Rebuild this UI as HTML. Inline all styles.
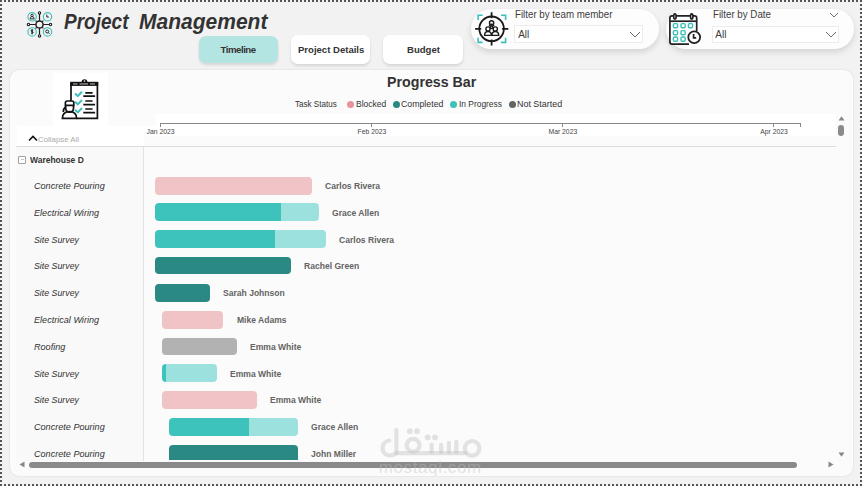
<!DOCTYPE html>
<html><head><meta charset="utf-8">
<style>
*{box-sizing:border-box;margin:0;padding:0}
html,body{width:862px;height:486px;overflow:hidden}
body{position:relative;background:#f3f2f2;font-family:"Liberation Sans",sans-serif;color:#333}
.a{position:absolute}
.t{line-height:1;white-space:nowrap;transform-origin:0 0}
.bt{background:repeating-linear-gradient(90deg,#555 0 2px,transparent 2px 4px)}
.bv{background:repeating-linear-gradient(180deg,#555 0 2px,transparent 2px 4px)}
.tab{border-radius:7px;background:#fff;box-shadow:0 2px 3px rgba(0,0,0,.12)}
.filt{background:#fdfdfd;border-radius:21px;box-shadow:0 3px 6px rgba(0,0,0,.13)}
.dd{background:#fff;border:1px solid #ececec}
.card{left:10px;top:70px;width:842.5px;height:405.8px;background:#fbfbfb;border-radius:9px;box-shadow:0 0 2px rgba(0,0,0,.14)}
.bar{border-radius:4px;height:17.8px}
.dot{width:7px;height:7px;border-radius:50%}
</style></head><body>
<div class="a bt" style="left:0;top:0;width:862px;height:2px"></div>
<div class="a bt" style="left:0;top:484px;width:862px;height:2px"></div>
<div class="a bv" style="left:0;top:0;width:2px;height:486px"></div>
<div class="a bv" style="left:860px;top:0;width:2px;height:486px"></div>

<svg class="a" style="left:25px;top:10px" width="30" height="30" viewBox="0 0 30 30">
 <g fill="none" stroke="#3ec1bb" stroke-width="1.15">
  <circle cx="7.1" cy="6.8" r="4.2"/><circle cx="22.5" cy="6.8" r="4.2"/>
  <circle cx="7.1" cy="21.9" r="4.2"/><circle cx="22.5" cy="21.9" r="4.2"/>
 </g>
 <g fill="none" stroke="#1e1e1e" stroke-width="1.2">
  <path d="M14.5 10.8V4M14.5 18.2V24.8M10.8 14.5H4.6M18.2 14.5H24.4"/>
  <path d="M11.7 11.7L10.6 10.6M17.3 11.7L18.4 10.6M11.7 17.3L10.6 18.4M17.3 17.3L18.4 18.4"/>
  <circle cx="14.5" cy="14.5" r="3.6" fill="#f3f2f2" stroke-width="1.5"/>
  <circle cx="14.5" cy="2.9" r="1.2" fill="#f3f2f2" stroke-width="1.1"/><circle cx="14.5" cy="25.9" r="1.2" fill="#f3f2f2" stroke-width="1.1"/>
  <circle cx="3.5" cy="14.5" r="1.2" fill="#f3f2f2" stroke-width="1.1"/><circle cx="25.5" cy="14.5" r="1.2" fill="#f3f2f2" stroke-width="1.1"/>
 </g>
 <g fill="none" stroke="#1e1e1e" stroke-width="0.95">
  <circle cx="7.1" cy="5.5" r="1.2"/><path d="M5.1 8.9c0-1.6 .9-2.3 2-2.3s2 .7 2 2.3z"/>
  <path d="M21.8 4.6v2.4h2"/>
  <path d="M8.2 20.3c-.3-.5-2.2-.5-2.2.5 0 1 2.2.5 2.2 1.6 0 1-1.9 1-2.2.4M7.1 19.2v5.2" stroke-width="1"/>
  <circle cx="22.2" cy="21.5" r="1.5"/><path d="M23.3 22.6l1.2 1.2"/>
 </g>
</svg>
<div class="a" style="left:64px;top:9px;font-size:22px;font-weight:bold;font-style:italic;color:#333;white-space:nowrap;transform:scaleX(0.865);transform-origin:0 0">Project</div>
<div class="a" style="left:139.3px;top:9px;font-size:22px;font-weight:bold;font-style:italic;color:#333;white-space:nowrap;transform:scaleX(0.955);transform-origin:0 0">Management</div>
<div class="a tab" style="left:199px;top:36px;width:79px;height:27px;background:#b3e5e2"></div>
<div class="a tab" style="left:291px;top:35px;width:79px;height:29px"></div>
<div class="a tab" style="left:383px;top:35px;width:80px;height:29px"></div>
<div class="a t" style="left:220.50px;top:45.00px;font-size:9.7px;color:#333;font-weight:bold;font-style:normal;letter-spacing:-0.5px">Timeline</div>
<div class="a t" style="left:297.80px;top:45.00px;font-size:9.7px;color:#333;font-weight:bold;font-style:normal;transform:scaleX(0.9851632047477745);">Project Details</div>
<div class="a t" style="left:406.90px;top:45.00px;font-size:9.7px;color:#333;font-weight:bold;font-style:normal;transform:scaleX(0.9880239520958084);">Budget</div>
<div class="a filt" style="left:471px;top:9px;width:188px;height:40px"></div>
<svg class="a" style="left:472px;top:10px" width="40" height="38" viewBox="472 10 40 38">
 <g fill="none" stroke="#3bbfb8" stroke-width="1.6">
  <path d="M478.1 20V15.3H482.6M501 15.3H505.6V20M478.1 37.8V42.4H482.6M501 42.4H505.6V37.8"/>
 </g>
 <g fill="none" stroke="#1a1a1a" stroke-width="1.8">
  <circle cx="491.6" cy="28.8" r="12.3"/>
  <path d="M491.6 12.3V18.2M491.6 39.4V45.5M475.1 28.8H481.2M502 28.8H508.3"/>
 </g>
 <g fill="none" stroke="#1a1a1a" stroke-width="1.4">
  <circle cx="491.6" cy="22.9" r="2.1"/>
  <circle cx="488" cy="29" r="2.1"/><circle cx="495.3" cy="29" r="2.1"/>
  <circle cx="491.6" cy="27.3" r="1.2"/>
  <path d="M484.6 35.4c0-2.6 1.4-3.9 3.4-3.9s3.4 1.3 3.4 3.9zM491.9 35.4c0-2.6 1.4-3.9 3.4-3.9s3.4 1.3 3.4 3.9z"/>
  <path d="M489.2 26.3c.5-1.3 1.4-2 2.4-2s1.9.7 2.4 2"/>
 </g>
</svg>
<div class="a t" style="left:515.40px;top:10.00px;font-size:10px;color:#3c3c3c;font-weight:normal;font-style:normal;transform:scaleX(0.974);">Filter by team member</div>
<div class="a dd" style="left:514px;top:25px;width:129px;height:17.5px"></div>
<div class="a t" style="left:518.20px;top:30.00px;font-size:10px;color:#3c3c3c;font-weight:normal;font-style:normal;">All</div>
<svg class="a" style="left:629px;top:31px" width="12" height="7" viewBox="0 0 12 7"><path d="M1 1l5 5 5-5" fill="none" stroke="#6a6a6a" stroke-width="1"/></svg>
<div class="a filt" style="left:666px;top:9px;width:188px;height:40px"></div>
<svg class="a" style="left:665px;top:8px" width="40" height="40" viewBox="665 8 40 40">
 <g fill="none" stroke="#222" stroke-width="1.7">
  <path d="M689 44.2H672.1q-2.2 0-2.2-2.2V18q0-2.2 2.2-2.2H694.5q2.2 0 2.2 2.2V31"/>
  <path d="M669.9 21.2H696.7"/>
  <ellipse cx="674.9" cy="16.4" rx="1.2" ry="2.5" fill="#fff"/>
  <ellipse cx="691.7" cy="16.4" rx="1.2" ry="2.5" fill="#fff"/>
  <circle cx="694.2" cy="37.2" r="5.9" fill="#fff" stroke-width="1.8"/>
  <path d="M693.6 34v3.8h2.6"/>
 </g>
 <g fill="none" stroke="#3bbfb8" stroke-width="1.4"><rect x="673.4" y="23.6" width="4.2" height="4.2" rx="1.2"/><rect x="673.4" y="30.6" width="4.2" height="4.2" rx="1.2"/><rect x="673.4" y="37.0" width="4.2" height="4.2" rx="1.2"/><rect x="681.0" y="23.6" width="4.2" height="4.2" rx="1.2"/><rect x="681.0" y="30.6" width="4.2" height="4.2" rx="1.2"/><rect x="681.0" y="37.0" width="4.2" height="4.2" rx="1.2"/><rect x="688.4" y="23.6" width="4.2" height="4.2" rx="1.2"/></g>
</svg>
<div class="a t" style="left:712.60px;top:10.00px;font-size:10px;color:#3c3c3c;font-weight:normal;font-style:normal;transform:scaleX(0.974);">Filter by Date</div>
<svg class="a" style="left:829px;top:12px" width="10" height="6" viewBox="0 0 10 6"><path d="M1 1l4 4 4-4" fill="none" stroke="#707070" stroke-width="1"/></svg>
<div class="a dd" style="left:711.5px;top:25.5px;width:127.5px;height:17px"></div>
<div class="a t" style="left:715.30px;top:30.00px;font-size:10px;color:#3c3c3c;font-weight:normal;font-style:normal;">All</div>
<svg class="a" style="left:825px;top:31px" width="12" height="7" viewBox="0 0 12 7"><path d="M1 1l5 5 5-5" fill="none" stroke="#6a6a6a" stroke-width="1"/></svg>
<div class="a card"></div>
<div class="a" style="left:53px;top:73px;width:55px;height:53px;background:#fff"></div>
<svg class="a" style="left:55px;top:74px" width="50" height="50" viewBox="0 0 50 50">
 <g fill="none" stroke="#111" stroke-width="1.7">
  <path d="M19.5 8.8H42.4V44.4H21.5"/>
  <path d="M16 29.5V8.8"/>
 </g>
 <path d="M15.2 7.8H43.2V11.9H15.2z" fill="#111"/>
 <path d="M26.6 8.2a2.9 2.9 0 0 1 5.8 0z" fill="#111"/>
 <circle cx="29.5" cy="7" r="0.8" fill="#fff"/>
 <g fill="#fff" opacity="0.8"><rect x="18" y="9.5" width="4.5" height="0.9"/><rect x="24.5" y="9.5" width="8.5" height="0.9"/><rect x="35" y="9.5" width="5" height="0.9"/></g>
 <g fill="none" stroke="#3bbfb8" stroke-width="2" stroke-linecap="round" stroke-linejoin="round">
  <path d="M20.6 20l2.2 2.1 3.6-3.8M20.6 28.3l2.2 2.1 3.6-3.8M20.6 36.3l2.2 2.1 3.6-3.8"/>
 </g>
 <g fill="none" stroke="#111" stroke-width="1.7">
  <path d="M30.3 18.9H37.6M28.3 22.1H40.1M30.3 27H37.6M28.3 30.6H40.1M30.3 35H37.6M28.3 38.6H40.1"/>
 </g>
 <g fill="none" stroke="#111" stroke-width="1.7">
  <path d="M7.4 44.4c0-4.6 3-6.8 7.1-6.8s7.1 2.2 7.1 6.8z" fill="#fff"/>
  <path d="M10.7 31.5v2.6c0 2.4 1.7 4.1 3.9 4.1s3.9-1.7 3.9-4.1v-2.6"/>
  <path d="M10.4 31.4v-2.6q0-1.8 1.8-1.8h4.8q1.8 0 1.8 1.8v2.6z" fill="#fff"/>
  <path d="M10.5 33c-1.6 1.2-2.2 3-2.2 5"/>
 </g>
</svg>
<div class="a t" style="left:387.00px;top:74.00px;font-size:15.3px;color:#333;font-weight:bold;font-style:normal;transform:scaleX(0.9292403746097815);">Progress Bar</div>
<div class="a t" style="left:294.50px;top:99.00px;font-size:9.9px;color:#333;font-weight:normal;font-style:normal;transform:scaleX(0.8180039138943248);">Task Status</div>
<div class="a dot" style="left:347.3px;top:100.6px;background:#e8939a"></div>
<div class="a t" style="left:355.50px;top:99.00px;font-size:9.9px;color:#333;font-weight:normal;font-style:normal;transform:scaleX(0.8607954545454545);">Blocked</div>
<div class="a dot" style="left:392.6px;top:100.6px;background:#2a8983"></div>
<div class="a t" style="left:401.30px;top:99.00px;font-size:9.9px;color:#333;font-weight:normal;font-style:normal;transform:scaleX(0.8872651356993737);">Completed</div>
<div class="a dot" style="left:450.2px;top:100.6px;background:#3dc3bc"></div>
<div class="a t" style="left:458.90px;top:99.00px;font-size:9.9px;color:#333;font-weight:normal;font-style:normal;transform:scaleX(0.849802371541502);">In Progress</div>
<div class="a dot" style="left:508.6px;top:100.6px;background:#646464"></div>
<div class="a t" style="left:516.90px;top:99.00px;font-size:9.9px;color:#333;font-weight:normal;font-style:normal;transform:scaleX(0.904);">Not Started</div>
<div class="a" style="left:156px;top:113.5px;width:679.5px;height:22.5px;background:#fff"></div>
<div class="a" style="left:143.5px;top:125.7px;width:13px;height:10.3px;background:#fff"></div>
<div class="a" style="left:16.5px;top:125.7px;width:127px;height:20.5px;background:#fff"></div>
<div class="a" style="left:160px;top:122.5px;width:641px;height:1px;background:#888"></div>
<div class="a" style="left:160px;top:122.5px;width:1px;height:4px;background:#888"></div>
<div class="a" style="left:371px;top:122.5px;width:1px;height:4px;background:#888"></div>
<div class="a" style="left:562px;top:122.5px;width:1px;height:4px;background:#888"></div>
<div class="a" style="left:773px;top:122.5px;width:1px;height:4px;background:#888"></div>
<div class="a" style="left:800px;top:122.5px;width:1px;height:4px;background:#888"></div>
<div class="a t" style="left:146.60px;top:129.00px;font-size:6.8px;color:#444;font-weight:normal;font-style:normal;">Jan 2023</div>
<div class="a t" style="left:357.60px;top:129.00px;font-size:6.8px;color:#444;font-weight:normal;font-style:normal;">Feb 2023</div>
<div class="a t" style="left:548.50px;top:129.00px;font-size:6.8px;color:#444;font-weight:normal;font-style:normal;">Mar 2023</div>
<div class="a t" style="left:760.20px;top:129.00px;font-size:6.8px;color:#444;font-weight:normal;font-style:normal;">Apr 2023</div>
<svg class="a" style="left:28px;top:135px" width="10" height="7" viewBox="0 0 10 7"><path d="M1 5.5l4-4 4 4" fill="none" stroke="#111" stroke-width="1.6"/></svg>
<div class="a t" style="left:37.80px;top:136.00px;font-size:8.1px;color:#aaa;font-weight:normal;font-style:normal;transform:scaleX(0.9692671394799055);">Collapse All</div>
<div class="a" style="left:16px;top:146px;width:820px;height:1px;background:#dcdcdc"></div>
<div class="a" style="left:16px;top:147px;width:127px;height:314px;background:#f9f9f9"></div>
<div class="a" style="left:143px;top:147px;width:1px;height:314px;background:#e3e3e3"></div>
<div class="a" style="left:18.2px;top:156px;width:8.3px;height:7.8px;border:1px solid #a0a0a0;border-radius:1px;background:#fff"></div>
<div class="a" style="left:20.6px;top:159.4px;width:3.4px;height:1px;background:#c4c4c4"></div>
<div class="a t" style="left:29.90px;top:155.00px;font-size:9.7px;color:#333;font-weight:bold;font-style:normal;transform:scaleX(0.8733766233766234);">Warehouse D</div>
<div class="a" style="left:0;top:147px;width:836px;height:313px;overflow:hidden">
<div class="a" style="left:0;top:-147px;width:836px;height:486px">
<div class="a t" style="left:33.60px;top:181.00px;font-size:9.9px;color:#333;font-weight:normal;font-style:italic;transform:scaleX(0.92);">Concrete Pouring</div>
<div class="a bar" style="left:155px;top:176.8px;width:157px;background:#f0c4c6"></div>
<div class="a t" style="left:325.10px;top:181.00px;font-size:9.5px;color:#636363;font-weight:bold;font-style:normal;transform:scaleX(0.9);">Carlos Rivera</div>
<div class="a t" style="left:33.60px;top:208.00px;font-size:9.9px;color:#333;font-weight:normal;font-style:italic;transform:scaleX(0.92);">Electrical Wiring</div>
<div class="a bar" style="left:155px;top:203.3px;width:164px;background:linear-gradient(90deg,#3dc3bc 0 126px,#9ce1dd 126px)"></div>
<div class="a t" style="left:331.50px;top:208.00px;font-size:9.5px;color:#636363;font-weight:bold;font-style:normal;transform:scaleX(0.9);">Grace Allen</div>
<div class="a t" style="left:33.60px;top:235.00px;font-size:9.9px;color:#333;font-weight:normal;font-style:italic;transform:scaleX(0.89);">Site Survey</div>
<div class="a bar" style="left:155px;top:229.9px;width:171px;background:linear-gradient(90deg,#3dc3bc 0 120px,#9ce1dd 120px)"></div>
<div class="a t" style="left:338.50px;top:235.00px;font-size:9.5px;color:#636363;font-weight:bold;font-style:normal;transform:scaleX(0.9);">Carlos Rivera</div>
<div class="a t" style="left:33.60px;top:261.00px;font-size:9.9px;color:#333;font-weight:normal;font-style:italic;transform:scaleX(0.89);">Site Survey</div>
<div class="a bar" style="left:155px;top:256.7px;width:136px;background:#2a8983"></div>
<div class="a t" style="left:304.40px;top:261.00px;font-size:9.5px;color:#636363;font-weight:bold;font-style:normal;transform:scaleX(0.9);">Rachel Green</div>
<div class="a t" style="left:33.60px;top:288.00px;font-size:9.9px;color:#333;font-weight:normal;font-style:italic;transform:scaleX(0.89);">Site Survey</div>
<div class="a bar" style="left:155px;top:283.8px;width:55px;background:#2a8983"></div>
<div class="a t" style="left:222.70px;top:288.00px;font-size:9.5px;color:#636363;font-weight:bold;font-style:normal;transform:scaleX(0.9);">Sarah Johnson</div>
<div class="a t" style="left:33.60px;top:315.00px;font-size:9.9px;color:#333;font-weight:normal;font-style:italic;transform:scaleX(0.92);">Electrical Wiring</div>
<div class="a bar" style="left:162px;top:310.9px;width:61px;background:#f0c4c6"></div>
<div class="a t" style="left:236.50px;top:315.00px;font-size:9.5px;color:#636363;font-weight:bold;font-style:normal;transform:scaleX(0.9);">Mike Adams</div>
<div class="a t" style="left:33.60px;top:342.00px;font-size:9.9px;color:#333;font-weight:normal;font-style:italic;transform:scaleX(0.92);">Roofing</div>
<div class="a bar" style="left:162px;top:337.6px;width:75px;background:#b2b2b2"></div>
<div class="a t" style="left:250.10px;top:342.00px;font-size:9.5px;color:#636363;font-weight:bold;font-style:normal;transform:scaleX(0.9);">Emma White</div>
<div class="a t" style="left:33.60px;top:369.00px;font-size:9.9px;color:#333;font-weight:normal;font-style:italic;transform:scaleX(0.89);">Site Survey</div>
<div class="a bar" style="left:162px;top:364.3px;width:55px;background:linear-gradient(90deg,#3dc3bc 0 4px,#9ce1dd 4px)"></div>
<div class="a t" style="left:229.60px;top:369.00px;font-size:9.5px;color:#636363;font-weight:bold;font-style:normal;transform:scaleX(0.9);">Emma White</div>
<div class="a t" style="left:33.60px;top:395.00px;font-size:9.9px;color:#333;font-weight:normal;font-style:italic;transform:scaleX(0.89);">Site Survey</div>
<div class="a bar" style="left:162px;top:391.0px;width:95px;background:#f0c4c6"></div>
<div class="a t" style="left:270.30px;top:395.00px;font-size:9.5px;color:#636363;font-weight:bold;font-style:normal;transform:scaleX(0.9);">Emma White</div>
<div class="a t" style="left:33.60px;top:422.00px;font-size:9.9px;color:#333;font-weight:normal;font-style:italic;transform:scaleX(0.92);">Concrete Pouring</div>
<div class="a bar" style="left:169px;top:418.0px;width:129px;background:linear-gradient(90deg,#3dc3bc 0 80px,#9ce1dd 80px)"></div>
<div class="a t" style="left:311.30px;top:422.00px;font-size:9.5px;color:#636363;font-weight:bold;font-style:normal;transform:scaleX(0.9);">Grace Allen</div>
<div class="a t" style="left:33.60px;top:449.00px;font-size:9.9px;color:#333;font-weight:normal;font-style:italic;transform:scaleX(0.92);">Concrete Pouring</div>
<div class="a bar" style="left:169px;top:444.8px;width:129px;background:#2a8983"></div>
<div class="a t" style="left:311.30px;top:449.00px;font-size:9.5px;color:#636363;font-weight:bold;font-style:normal;transform:scaleX(0.9);">John Miller</div>
</div></div>
<svg class="a" style="left:19px;top:461px" width="6" height="7" viewBox="0 0 6 7"><path d="M5.5 0.5V6.5L0.5 3.5z" fill="#888"/></svg>
<svg class="a" style="left:828px;top:461px" width="6" height="7" viewBox="0 0 6 7"><path d="M0.5 0.5V6.5L5.5 3.5z" fill="#888"/></svg>
<svg class="a" style="left:837.5px;top:452px" width="7" height="5" viewBox="0 0 7 5"><path d="M0.5 0.5H6.5L3.5 4.7z" fill="#888"/></svg>
<svg class="a" style="left:837.8px;top:116px" width="7" height="5" viewBox="0 0 7 5"><path d="M0.5 4.5H6.5L3.5 0.3z" fill="#888"/></svg>
<div class="a" style="left:28.5px;top:461.6px;width:768.5px;height:6px;border-radius:3px;background:#8a8a8a"></div>
<div class="a" style="left:838px;top:125.3px;width:5.8px;height:11.2px;border-radius:3px;background:#8a8a8a"></div>
<svg class="a" style="left:370px;top:420px;overflow:hidden" width="120" height="55.5" viewBox="370 420 120 55.5">
<g fill="none" stroke="rgba(190,190,190,0.42)" stroke-width="4.2" stroke-linecap="round" stroke-linejoin="round">
<path d="M389.3 440.5 A7.6 7.6 0 0 0 388.6 455.5 Q393 455.5 396.5 453.2 H465"/>
<path d="M396.4 430V453"/>
<circle cx="413.1" cy="445.2" r="6.4"/>
<path d="M431.6 444.6V452M441.2 444.8V452M448.9 442.8V452M456.3 441.9V452"/>
<circle cx="472.1" cy="448.3" r="7.3"/>
</g>
<g fill="rgba(190,190,190,0.42)">
<circle cx="409.8" cy="431.2" r="2.9"/><circle cx="417" cy="431.2" r="2.9"/>
<circle cx="427.7" cy="437.4" r="2.9"/><circle cx="435" cy="437.4" r="2.9"/>
</g>
<text x="378.8" y="472.8" font-family="Liberation Sans" font-size="17" letter-spacing="0.6" fill="rgba(190,190,190,0.42)">mostaql.com</text>
</svg>
</body></html>
